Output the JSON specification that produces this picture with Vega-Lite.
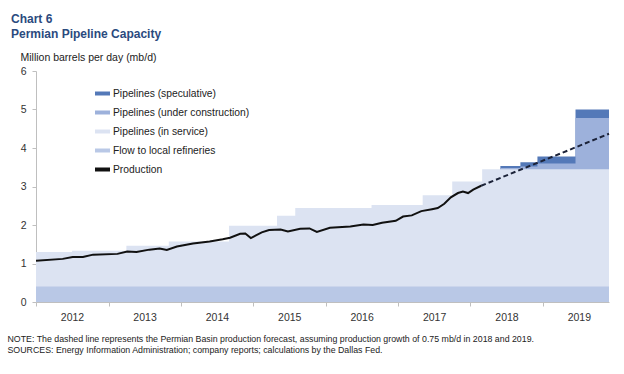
{
  "$schema": "https://vega.github.io/schema/vega-lite/v6.json",
  "autosize": {"type": "none"},
  "padding": {"left": 36, "top": 71, "right": 15, "bottom": 72},
  "width": 573,
  "height": 231,
  "background": "white",
  "config": {
    "view": {"stroke": null},
    "font": "Liberation Sans",
    "axis": {"labelFont": "Liberation Sans", "titleFont": "Liberation Sans", "labelColor": "#333333", "labelFontSize": 10.5, "domainColor": "#BFBFBF", "tickColor": "#BFBFBF", "tickSize": 4, "grid": false}
  },
  "title": {
    "text": ["Chart 6", "Permian Pipeline Capacity"],
    "anchor": "start",
    "frame": "group",
    "dx": -25,
    "offset": 11,
    "font": "Liberation Sans",
    "fontSize": 12,
    "fontWeight": "bold",
    "color": "#2B4A7E",
    "lineHeight": 15.5
  },
  "datasets": {
    "capacity": [
      {"date": "2012-01-01", "series": "Flow to local refineries", "value": 0.4},
      {"date": "2019-12-01", "series": "Flow to local refineries", "value": 0.4},

      {"date": "2012-01-01", "series": "Pipelines (in service)", "value": 1.30},
      {"date": "2012-07-01", "series": "Pipelines (in service)", "value": 1.33},
      {"date": "2013-04-01", "series": "Pipelines (in service)", "value": 1.46},
      {"date": "2013-11-01", "series": "Pipelines (in service)", "value": 1.57},
      {"date": "2014-09-01", "series": "Pipelines (in service)", "value": 1.98},
      {"date": "2015-05-01", "series": "Pipelines (in service)", "value": 2.24},
      {"date": "2015-08-01", "series": "Pipelines (in service)", "value": 2.44},
      {"date": "2016-08-20", "series": "Pipelines (in service)", "value": 2.52},
      {"date": "2017-05-05", "series": "Pipelines (in service)", "value": 2.77},
      {"date": "2017-10-01", "series": "Pipelines (in service)", "value": 3.13},
      {"date": "2018-03-01", "series": "Pipelines (in service)", "value": 3.45},
      {"date": "2019-12-01", "series": "Pipelines (in service)", "value": 3.45},

      {"date": "2018-06-01", "series": "Pipelines (under construction)", "value": 3.48},
      {"date": "2018-09-10", "series": "Pipelines (under construction)", "value": 3.52},
      {"date": "2018-12-05", "series": "Pipelines (under construction)", "value": 3.60},
      {"date": "2019-06-15", "series": "Pipelines (under construction)", "value": 4.78},
      {"date": "2019-12-01", "series": "Pipelines (under construction)", "value": 4.78},

      {"date": "2018-06-01", "series": "Pipelines (speculative)", "value": 3.53},
      {"date": "2018-09-10", "series": "Pipelines (speculative)", "value": 3.63},
      {"date": "2018-12-05", "series": "Pipelines (speculative)", "value": 3.78},
      {"date": "2019-06-15", "series": "Pipelines (speculative)", "value": 5.00},
      {"date": "2019-12-01", "series": "Pipelines (speculative)", "value": 5.00}
    ],
    "production": [
      {"date": "2012-01-01", "series": "Production", "value": 1.07},
      {"date": "2012-05-15", "series": "Production", "value": 1.12},
      {"date": "2012-07-04", "series": "Production", "value": 1.17},
      {"date": "2012-08-25", "series": "Production", "value": 1.17},
      {"date": "2012-10-15", "series": "Production", "value": 1.23},
      {"date": "2013-02-15", "series": "Production", "value": 1.25},
      {"date": "2013-04-05", "series": "Production", "value": 1.31},
      {"date": "2013-05-22", "series": "Production", "value": 1.30},
      {"date": "2013-07-26", "series": "Production", "value": 1.36},
      {"date": "2013-09-16", "series": "Production", "value": 1.39},
      {"date": "2013-10-22", "series": "Production", "value": 1.35},
      {"date": "2013-12-12", "series": "Production", "value": 1.44},
      {"date": "2014-03-03", "series": "Production", "value": 1.52},
      {"date": "2014-05-26", "series": "Production", "value": 1.57},
      {"date": "2014-07-31", "series": "Production", "value": 1.63},
      {"date": "2014-09-06", "series": "Production", "value": 1.67},
      {"date": "2014-10-27", "series": "Production", "value": 1.77},
      {"date": "2014-11-22", "series": "Production", "value": 1.78},
      {"date": "2014-12-20", "series": "Production", "value": 1.66},
      {"date": "2015-02-13", "series": "Production", "value": 1.81},
      {"date": "2015-03-22", "series": "Production", "value": 1.87},
      {"date": "2015-05-19", "series": "Production", "value": 1.88},
      {"date": "2015-06-25", "series": "Production", "value": 1.83},
      {"date": "2015-08-26", "series": "Production", "value": 1.90},
      {"date": "2015-10-12", "series": "Production", "value": 1.91},
      {"date": "2015-11-18", "series": "Production", "value": 1.82},
      {"date": "2016-01-23", "series": "Production", "value": 1.93},
      {"date": "2016-05-05", "series": "Production", "value": 1.96},
      {"date": "2016-07-10", "series": "Production", "value": 2.01},
      {"date": "2016-08-26", "series": "Production", "value": 2.00},
      {"date": "2016-10-12", "series": "Production", "value": 2.06},
      {"date": "2016-12-20", "series": "Production", "value": 2.11},
      {"date": "2017-01-26", "series": "Production", "value": 2.22},
      {"date": "2017-03-11", "series": "Production", "value": 2.25},
      {"date": "2017-04-28", "series": "Production", "value": 2.36},
      {"date": "2017-06-21", "series": "Production", "value": 2.41},
      {"date": "2017-07-20", "series": "Production", "value": 2.44},
      {"date": "2017-08-22", "series": "Production", "value": 2.55},
      {"date": "2017-09-24", "series": "Production", "value": 2.72},
      {"date": "2017-10-30", "series": "Production", "value": 2.83},
      {"date": "2017-11-24", "series": "Production", "value": 2.87},
      {"date": "2017-12-20", "series": "Production", "value": 2.83},
      {"date": "2018-01-15", "series": "Production", "value": 2.92},
      {"date": "2018-02-24", "series": "Production", "value": 3.02}
    ],
    "forecast": [
      {"date": "2018-02-24", "value": 3.02},
      {"date": "2019-12-01", "value": 4.37}
    ]
  },
  "encoding": {
    "x": {
      "field": "date",
      "type": "temporal",
      "scale": {"domain": [{"year": 2012, "month": 1, "date": 1}, {"year": 2019, "month": 12, "date": 1}]},
      "axis": {
        "format": "%Y",
        "tickCount": {"interval": "year", "step": 1},
        "labelOffset": 36,
        "labelFlush": false,
        "labelPadding": 6,
        "title": ["NOTE: The dashed line represents the Permian Basin production forecast, assuming production growth of 0.75 mb/d in 2018 and 2019.", "SOURCES: Energy Information  Administration; company reports; calculations by the Dallas Fed."],
        "titleFontSize": 8.8,
        "titleFontWeight": "normal",
        "titleColor": "#222222",
        "titleAnchor": "start",
        "titleAlign": "left",
        "titleBaseline": "top",
        "titleX": -29,
        "titleY": 32,
        "titleLineHeight": 11
      }
    },
    "y": {
      "field": "value",
      "type": "quantitative",
      "scale": {"domain": [0, 6], "nice": false, "zero": true},
      "axis": {
        "values": [0, 1, 2, 3, 4, 5, 6],
        "labelPadding": 6,
        "title": "Million barrels per day (mb/d)",
        "titleAngle": 0,
        "titleAlign": "left",
        "titleBaseline": "middle",
        "titleFontSize": 10.5,
        "titleFontWeight": "normal",
        "titleColor": "#222222",
        "titleX": -16,
        "titleY": -14
      }
    }
  },
  "layer": [
    {
      "data": {"name": "capacity"},
      "transform": [{"filter": {"field": "series", "equal": "Pipelines (speculative)"}}],
      "mark": {"type": "area", "interpolate": "step-after", "opacity": 1},
      "encoding": {
        "color": {
          "field": "series",
          "type": "nominal",
          "scale": {
            "domain": ["Pipelines (speculative)", "Pipelines (under construction)", "Pipelines (in service)", "Flow to local refineries", "Production"],
            "range": ["#5479B8", "#9DB1DB", "#DCE3F2", "#B9C8E6", "#111111"]
          },
          "legend": {
            "title": null,
            "orient": "none",
            "legendX": 57,
            "legendY": 13,
            "padding": 0,
            "symbolType": "stroke",
            "symbolSize": 225,
            "symbolStrokeWidth": 4,
            "labelOffset": 1,
            "labelFontSize": 10.3,
            "labelColor": "#222222",
            "labelFont": "Liberation Sans",
            "rowPadding": 1,
            "encode": {
              "symbols": {
                "update": {
                  "stroke": {"scale": "color", "field": "value"},
                  "strokeWidth": {"signal": "datum.value === 'Production' ? 1.8 : 4"},
                  "fill": {"value": "transparent"},
                  "opacity": {"value": 1}
                }
              }
            }
          }
        }
      }
    },
    {
      "data": {"name": "capacity"},
      "transform": [{"filter": {"field": "series", "equal": "Pipelines (under construction)"}}],
      "mark": {"type": "area", "interpolate": "step-after", "opacity": 1},
      "encoding": {"color": {"field": "series", "type": "nominal"}}
    },
    {
      "data": {"name": "capacity"},
      "transform": [{"filter": {"field": "series", "equal": "Pipelines (in service)"}}],
      "mark": {"type": "area", "interpolate": "step-after", "opacity": 1},
      "encoding": {"color": {"field": "series", "type": "nominal"}}
    },
    {
      "data": {"name": "capacity"},
      "transform": [{"filter": {"field": "series", "equal": "Flow to local refineries"}}],
      "mark": {"type": "area", "interpolate": "step-after", "opacity": 1},
      "encoding": {"color": {"field": "series", "type": "nominal"}}
    },
    {
      "data": {"name": "production"},
      "mark": {"type": "line", "strokeWidth": 2},
      "encoding": {"color": {"field": "series", "type": "nominal"}}
    },
    {
      "data": {"name": "forecast"},
      "mark": {"type": "line", "strokeWidth": 2, "strokeDash": [5, 3], "color": "#1B2238"},
      "encoding": {}
    }
  ]
}
